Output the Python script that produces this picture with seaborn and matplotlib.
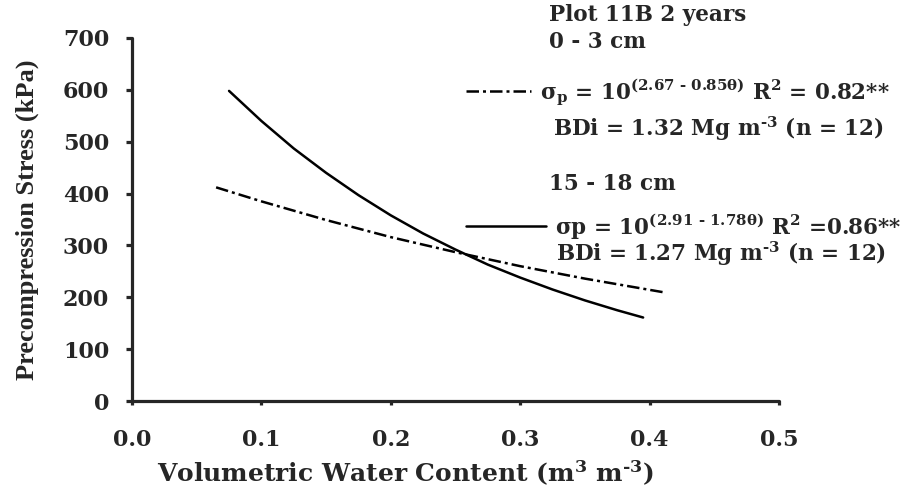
import matplotlib
matplotlib.use("Agg")
import matplotlib.pyplot as plt
import seaborn as sns
import pandas as pd

# Values
theta_0_3 = [0.065, 0.10, 0.15, 0.20, 0.25, 0.30, 0.35, 0.41]
stress_0_3 = [412, 385, 349, 316, 287, 260, 236, 210]

theta_15_18 = [0.075, 0.10, 0.125, 0.15, 0.175, 0.20, 0.225, 0.25,
               0.275, 0.30, 0.325, 0.35, 0.375, 0.395]
stress_15_18 = [598, 540, 487, 440, 397, 358, 323, 292,
                263, 238, 215, 194, 175, 161]

x_ticks = [0.0, 0.1, 0.2, 0.3, 0.4, 0.5]
y_ticks = [0, 100, 200, 300, 400, 500, 600, 700]

header_text = "Plot 11B 2 years"
depth1_text = "0 - 3 cm"
depth2_text = "15 - 18 cm"
eq1_text = r"σ$_\mathrm{p}$ = 10$^{\text{(2.67 - 0.85θ)}}$ R$^2$ = 0.82**"
eq2_text = r"σp = 10$^{\text{(2.91 - 1.78θ)}}$ R$^2$ =0.86**"
bd1_text = r"BDi = 1.32 Mg m$^{\text{-3}}$ (n = 12)"
bd2_text = r"BDi = 1.27 Mg m$^{\text{-3}}$ (n = 12)"
xlabel_text = r"Volumetric Water Content (m$^3$ m$^{\text{-3}}$)"
ylabel_text = "Precompression Stress (kPa)"

sns.set_style("ticks")
plt.rcParams["font.family"] = ["DejaVu Serif"]
plt.rcParams["font.weight"] = "bold"
plt.rcParams["mathtext.fontset"] = "custom"
plt.rcParams["mathtext.rm"] = "DejaVu Serif:bold"
plt.rcParams["mathtext.it"] = "DejaVu Serif:bold"
plt.rcParams["mathtext.bf"] = "DejaVu Serif:bold"
plt.rcParams["mathtext.default"] = "rm"

W, H = 912, 490
fig = plt.figure(figsize=(W / 100, H / 100), dpi=100)
ax = fig.add_axes([132 / W, 1 - 401 / H, (779 - 132) / W, (401 - 38) / H])

df1 = pd.DataFrame({"theta": theta_0_3, "stress": stress_0_3})
df2 = pd.DataFrame({"theta": theta_15_18, "stress": stress_15_18})

sns.lineplot(data=df1, x="theta", y="stress", color="black", lw=1.8,
             linestyle=(0, (5, 1.6, 1.2, 1.6)), ax=ax)
sns.lineplot(data=df2, x="theta", y="stress", color="black", lw=1.8, ax=ax)
line_dd, line_solid = ax.lines[0], ax.lines[1]

ax.set_xlim(0, 0.5)
ax.set_ylim(0, 700)
ax.set_xticks(x_ticks)
ax.set_xticklabels([f"{v:.1f}" for v in x_ticks])
ax.set_yticks(y_ticks)
ax.set_yticklabels([str(v) for v in y_ticks])
sns.despine(ax=ax)
for s in ["left", "bottom"]:
    ax.spines[s].set_linewidth(2.3)
    ax.spines[s].set_capstyle("round")
ax.tick_params(axis="y", length=4.5, width=2.3, pad=12, labelsize=16)
ax.tick_params(axis="x", length=3, width=2.3, pad=17, labelsize=16)
for lab in ax.get_xticklabels() + ax.get_yticklabels():
    lab.set_fontweight("bold")

ax.set_xlabel(xlabel_text, fontsize=18, fontweight="bold", labelpad=6)
ax.xaxis.label.set_x((405 - 132) / (779 - 132))
ax.set_ylabel(ylabel_text, fontsize=19, fontweight="bold",
              family="Liberation Serif", labelpad=17)

fs = 15.5
prop = {"family": "DejaVu Serif", "weight": "bold", "size": fs}

def fx(px):
    return px / W

def fy(py):
    return 1 - py / H

fig.text(fx(549), fy(15), header_text, ha="left", va="center", fontsize=fs, fontweight="bold")
fig.text(fx(549), fy(42), depth1_text, ha="left", va="center", fontsize=fs, fontweight="bold")
fig.text(fx(553), fy(129), bd1_text, ha="left", va="center", fontsize=fs, fontweight="bold")
fig.text(fx(549), fy(184), depth2_text, ha="left", va="center", fontsize=fs, fontweight="bold")
fig.text(fx(556), fy(254), bd2_text, ha="left", va="center", fontsize=fs, fontweight="bold")

leg1 = ax.legend(handles=[line_dd], labels=[eq1_text], loc="center left",
                 bbox_to_anchor=(fx(466), fy(92)), bbox_transform=fig.transFigure,
                 frameon=False, prop=prop, borderpad=0, borderaxespad=0,
                 handlelength=3.0, handletextpad=0.45)
ax.add_artist(leg1)
leg2 = ax.legend(handles=[line_solid], labels=[eq2_text], loc="center left",
                 bbox_to_anchor=(fx(466), fy(226)), bbox_transform=fig.transFigure,
                 frameon=False, prop=prop, borderpad=0, borderaxespad=0,
                 handlelength=3.7, handletextpad=0.45)

fig.savefig("out.png", dpi=100)
